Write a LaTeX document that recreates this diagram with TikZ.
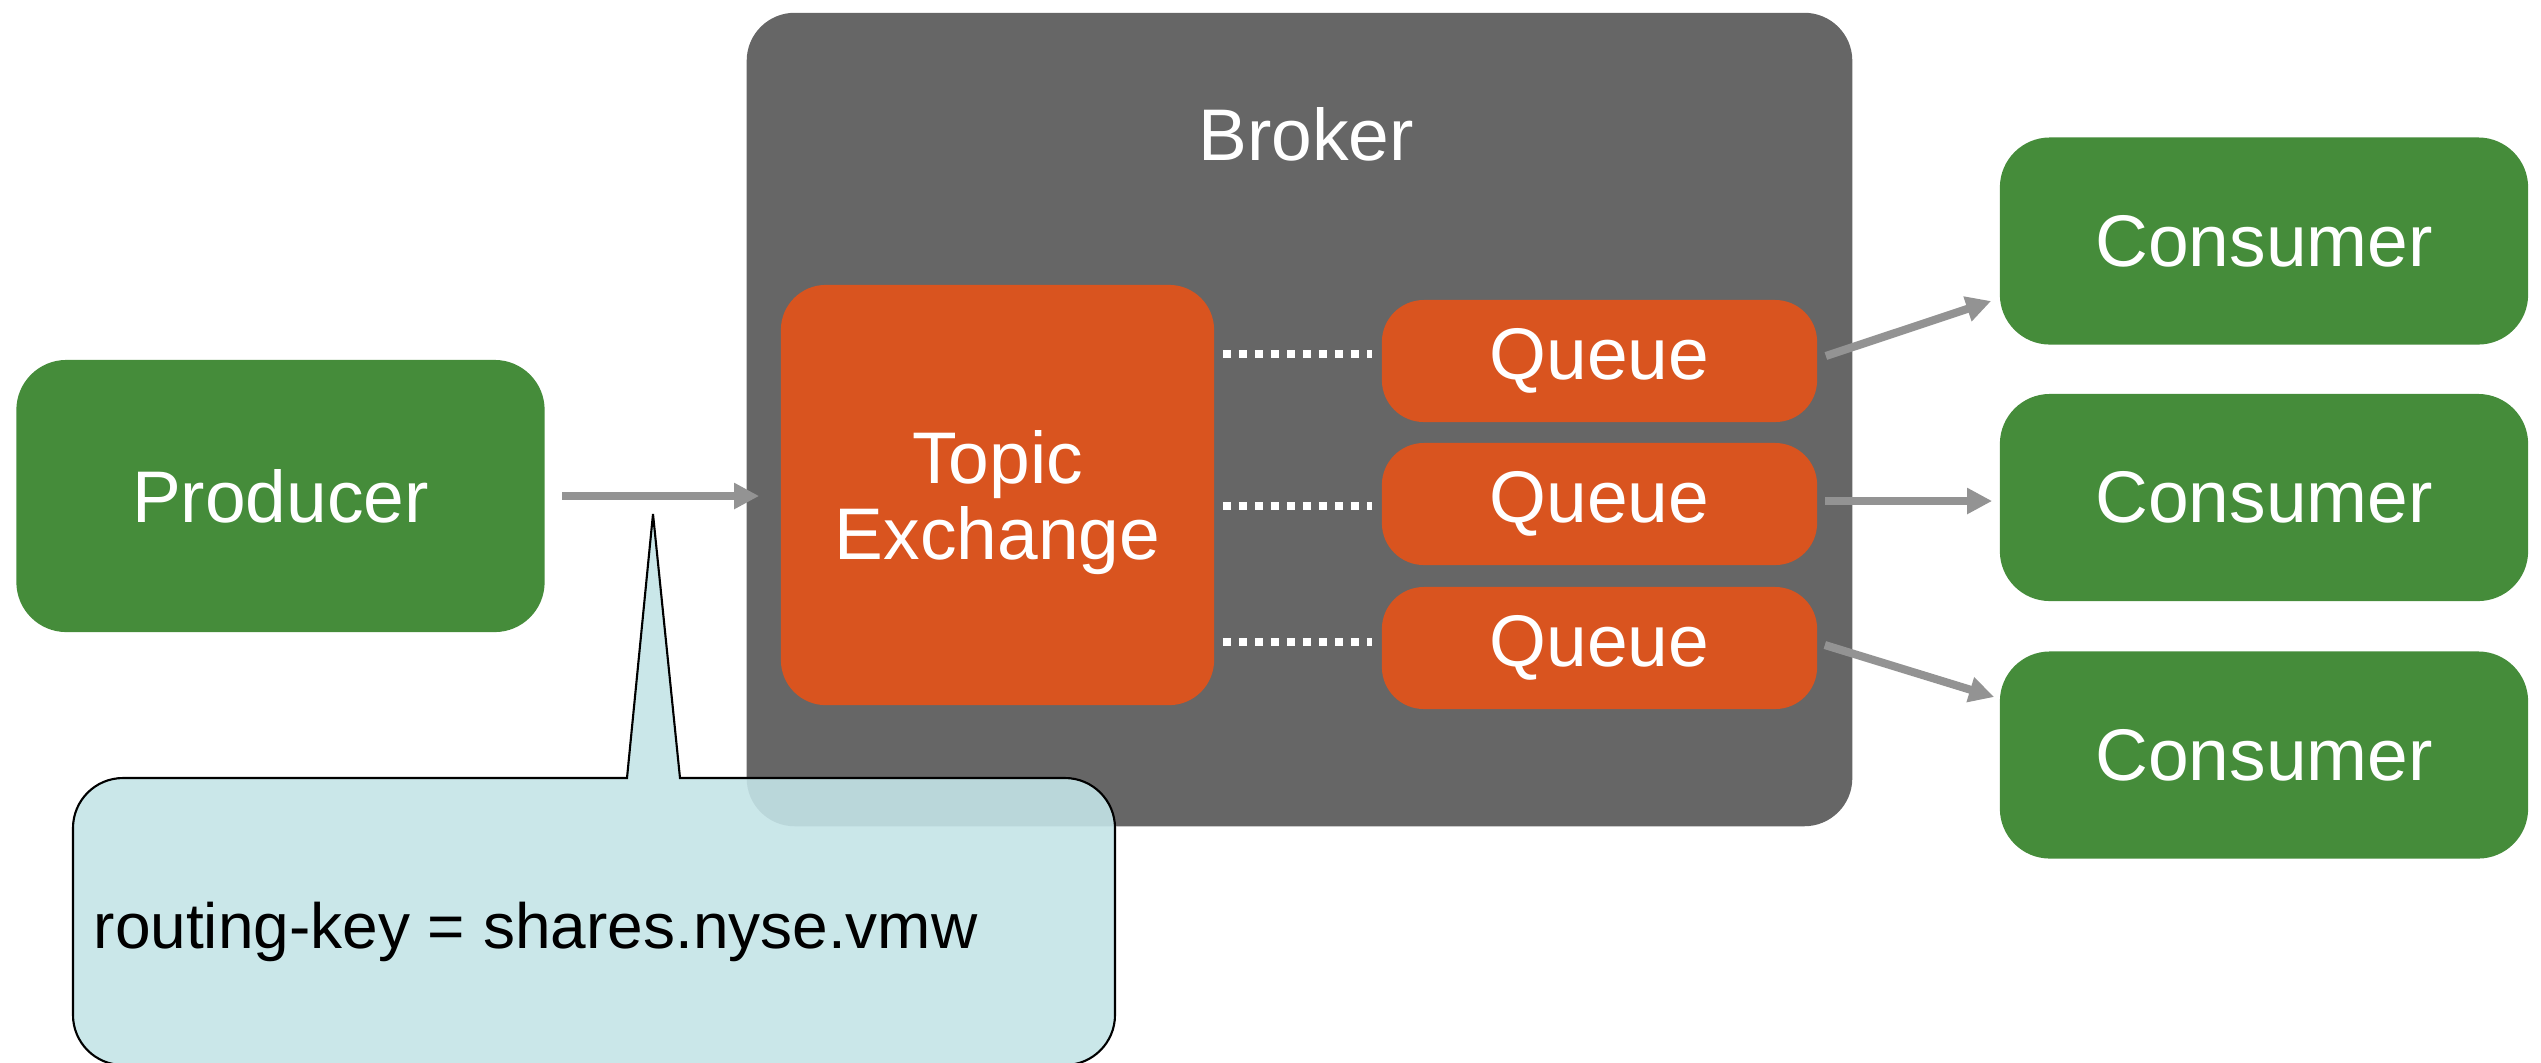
\documentclass[tikz,border=0pt]{standalone}
\usepackage{fontspec}
\setmainfont{Liberation Sans}
\usetikzlibrary{arrows.meta,calc}

\definecolor{prodgreen}{RGB}{69,140,58}
\definecolor{brokergray}{RGB}{102,102,102}
\definecolor{xorange}{RGB}{217,84,31}
\definecolor{arrowgray}{RGB}{147,147,147}
\definecolor{notefill}{RGB}{196,228,231}

\tikzset{
  label font/.style={font=\fontsize{20.8pt}{21.6pt}\selectfont},
  greenbox/.style={fill=prodgreen, text=white, rounded corners=0.5cm,
    minimum width=5.28cm, label font, inner sep=0pt},
  orangebox/.style={fill=xorange, text=white, label font, inner sep=0pt},
  flow/.style={draw=arrowgray, line width=2.3pt,
    -{Triangle[length=7.1pt,width=7pt]}},
  binding/.style={draw=white, line width=2.3pt, dash pattern=on 2.3pt off 2.25pt},
}

\begin{document}
\begin{tikzpicture}[x=0.01cm, y=-0.01cm]
\useasboundingbox (0,0) rectangle (2541,1062);

% broker container
\node[fill=brokergray, rounded corners=0.48cm, minimum width=11.05cm,
      minimum height=8.13cm, inner sep=0pt] (broker) at (1299.5,419.5) {};
\node[text=white, label font, anchor=base, inner sep=0pt] (brokerlbl) at (1306,160) {Broker};

% producer
\node[greenbox, minimum height=2.72cm] (prod) at (280.5,496) {Producer};

% exchange
\node[orangebox, rounded corners=0.45cm, minimum width=4.33cm, minimum height=4.2cm]
  (tex) at (997.5,495) {};
\node[text=white, label font, align=center, inner sep=0pt] (texlbl) at (997.5,503)
  {Topic\\Exchange};

% queues
\foreach \i/\y in {1/361, 2/504, 3/648}
  \node[orangebox, rounded corners=0.42cm, minimum width=4.35cm,
        minimum height=1.22cm] (q\i) at (1599.5,\y) {Queue};

% consumers
\foreach \i/\y in {1/241, 2/497.5, 3/755}
  \node[greenbox, minimum height=2.07cm] (c\i) at (2264,\y) {Consumer};

% bindings between exchange and queues
\draw[binding] ($(tex.east |- q1.west)+(8,-7)$) -- ($(q1.west)+(-9,-7)$);
\draw[binding] ($(tex.east |- q2.west)+(8,2)$) -- ($(q2.west)+(-9,2)$);
\draw[binding] ($(tex.east |- q3.west)+(8,-6)$) -- ($(q3.west)+(-9,-6)$);

% message flow
\draw[flow, shorten <=0.17cm, shorten >=0.21cm] (prod.east) -- (prod.east -| tex.west);
\draw[flow] ($(q1.east)+(8,-5)$) -- ($(c1.west)+(-8,60)$);
\draw[flow] ($(q2.east)+(7,-3)$) -- ($(c2.west)+(-7,3.5)$);
\draw[flow] ($(q3.east)+(7,-3)$) -- ($(c3.west)+(-5,-58)$);

% routing-key callout
\coordinate (tip) at (653,514);
\draw[black, line width=0.6pt, fill=notefill, fill opacity=0.9, line join=miter]
  (tip) -- (680,778) -- (1065,778)
  .. controls (1092.6,778) and (1115,800.4) .. (1115,828) -- (1115,1015)
  .. controls (1115,1042.6) and (1092.6,1065) .. (1065,1065) -- (123,1065)
  .. controls (95.4,1065) and (73,1042.6) .. (73,1015) -- (73,828)
  .. controls (73,800.4) and (95.4,778) .. (123,778) -- (627,778) -- cycle;
\node[anchor=base west, inner sep=0pt, font=\fontsize{18.2pt}{20pt}\selectfont]
  (rkey) at (93,948) {routing-key = shares.nyse.vmw};
\end{tikzpicture}
\end{document}
